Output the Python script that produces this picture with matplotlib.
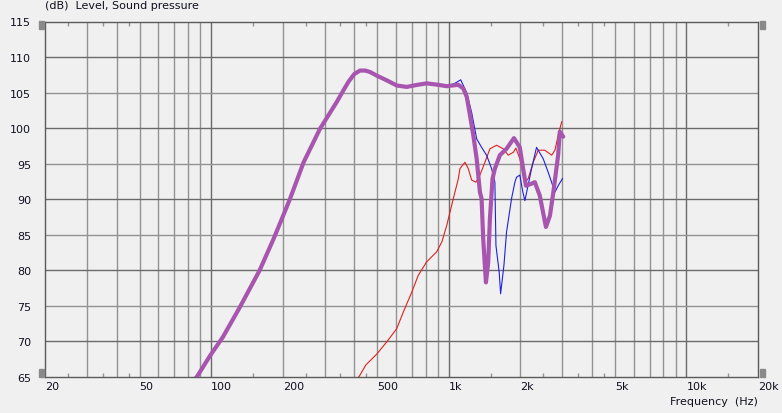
import numpy as np
import matplotlib
matplotlib.use("Agg")
import matplotlib.pyplot as plt
from matplotlib.patches import Rectangle

# purple curve (summed response)
sum_f = [80, 87, 99, 112, 132, 160, 183, 201, 215, 245, 287, 338, 360, 378, 400, 423, 445,
         466, 497, 550, 604, 665, 740, 807, 900, 980, 1096, 1150, 1190, 1228, 1268, 1310,
         1352, 1374, 1396, 1433, 1465, 1489, 1528, 1563, 1640, 1750, 1880, 1990, 2055,
         2112, 2230, 2302, 2415, 2563, 2665, 2754, 2885, 2932, 3030]
sum_db = [63.8, 65.0, 68.0, 70.6, 74.8, 80.0, 84.4, 87.7, 90.1, 95.2, 99.9, 103.7, 105.3,
          106.5, 107.6, 108.1, 108.1, 107.9, 107.4, 106.7, 106.0, 105.8, 106.1, 106.3,
          106.1, 105.9, 106.1, 105.6, 104.4, 101.8, 99.0, 95.7, 91.0, 90.1, 84.4, 78.3,
          81.1, 87.2, 92.9, 94.3, 96.2, 97.1, 98.6, 97.3, 94.3, 91.9, 92.2, 92.4, 90.5,
          86.1, 87.7, 91.0, 96.2, 99.5, 98.8]

# blue curve (woofer)
woof_f = [80, 87, 99, 112, 132, 160, 183, 201, 215, 245, 287, 338, 360, 378, 400, 423, 445,
          466, 497, 550, 604, 665, 740, 807, 900, 980, 1060, 1122, 1189, 1248, 1310, 1374,
          1442, 1514, 1563, 1579, 1630, 1652, 1706, 1750, 1837, 1897, 1928, 1990, 2050,
          2090, 2230, 2340, 2496, 2619, 2797, 2885, 3008]
woof_db = [63.8, 65.0, 68.0, 70.6, 74.8, 80.0, 84.4, 87.7, 90.1, 95.2, 99.9, 103.7, 105.3,
           106.5, 107.6, 108.1, 108.1, 107.9, 107.4, 106.7, 106.0, 105.8, 106.1, 106.3,
           106.1, 105.9, 106.3, 106.8, 105.0, 102.2, 98.5, 97.3, 96.2, 94.3, 92.4, 83.5,
           79.7, 76.7, 80.7, 85.4, 90.1, 92.4, 93.1, 93.4, 91.0, 89.8, 94.3, 97.3, 95.7,
           93.8, 91.0, 91.9, 92.9]

# red curve (tweeter)
tw_f = [400, 420, 448, 497, 547, 604, 643, 698, 744, 807, 889, 935, 980, 1045, 1097, 1114,
        1170, 1208, 1248, 1301, 1352, 1419, 1490, 1589, 1694, 1779, 1867, 1916, 1990, 2090,
        2158, 2266, 2378, 2535, 2710, 2797, 2885, 2986]
tw_db = [64.2, 65.1, 66.7, 68.2, 69.9, 71.8, 74.1, 76.9, 79.3, 81.2, 82.6, 84.0, 86.3, 90.1,
         92.9, 94.3, 95.2, 94.3, 92.7, 92.4, 93.4, 95.2, 97.1, 97.6, 97.1, 96.2, 96.6, 97.2,
         95.7, 92.4, 92.9, 95.2, 96.9, 96.9, 96.2, 96.9, 99.0, 100.9]

xtick_vals = [20, 50, 100, 200, 500, 1000, 2000, 5000, 10000, 20000]
xtick_text = ["20", "50", "100", "200", "500", "1k", "2k", "5k", "10k", "20k"]
ytick_vals = list(range(65, 116, 5))
small_ticks = [25, 35, 45, 150, 250, 350, 450, 1500, 2500, 3500, 4500, 15000]

bg = "#f0f0f0"
txt = "#101020"
fs = 8
fig = plt.figure(figsize=(7.82, 4.14), dpi=100, facecolor=bg)
W, H = 782, 414
x0, x1, y0, y1 = 45, 758, 22.5, 378
ax = fig.add_axes([x0 / W, 1 - y1 / H, (x1 - x0) / W, (y1 - y0) / H])
ax.set_facecolor(bg)
ax.set_xscale("log")
ax.set_xlim(20, 20000)
ax.set_ylim(65, 115)

# grid
for dec in [10, 100, 1000, 10000]:
    for m in range(1, 10):
        f = dec * m
        if 20 < f < 20000:
            c = "#6a6a6a" if m == 1 else "#939393"
            ax.axvline(f, color=c, lw=1.0, zorder=1)
for v in ytick_vals[1:-1]:
    c = "#6a6a6a" if v % 10 == 0 else "#939393"
    ax.axhline(v, color=c, lw=1.0, zorder=1)

for s in ax.spines.values():
    s.set_color("#5a5a5a")
    s.set_linewidth(1.0)

ax.plot(tw_f, tw_db, color="#e02020", lw=0.8, zorder=3)
ax.plot(woof_f, woof_db, color="#2020e0", lw=0.8, zorder=3)
ax.plot(sum_f, sum_db, color="#a855b0", lw=3.0, zorder=4,
        solid_joinstyle="round", solid_capstyle="round")

ax.set_xticks(xtick_vals)
ax.set_xticklabels(xtick_text, ha="left", fontsize=fs, color=txt)
ax.set_xticks(small_ticks, minor=True)
ax.set_xticklabels([], minor=True)
ax.tick_params(axis="x", which="major", length=0, pad=3)
ax.tick_params(axis="x", which="minor", length=3, direction="in", top=True,
               bottom=True, color="#939393", width=1)
ax.set_yticks(ytick_vals)
ax.set_yticklabels([str(v) for v in ytick_vals], fontsize=fs, color=txt)
ax.tick_params(axis="y", length=0, pad=10)

# small scroll handles at the axis ends
for (hx, hy) in [(39, 22), (39, 370), (760, 22), (760, 370)]:
    fig.patches.append(Rectangle((hx / W, 1 - (hy + 8) / H), 5 / W, 8 / H,
                                 transform=fig.transFigure, color="#8a8a8a"))

fig.text(45 / W, 1 - 6 / H, "(dB)  Level, Sound pressure", fontsize=fs,
         color=txt, va="center", ha="left")
fig.text(758 / W, 1 - 402 / H, "Frequency  (Hz)", fontsize=fs,
         color=txt, va="center", ha="right")

fig.savefig("out.png", dpi=100, facecolor=bg)
